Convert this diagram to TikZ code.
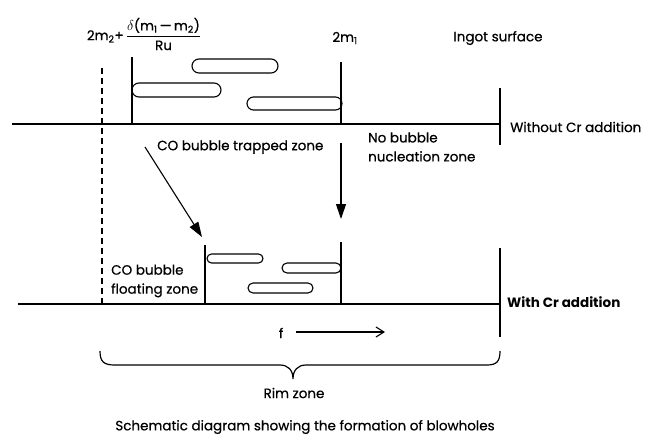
\documentclass[tikz,border=0pt]{standalone}
\usepackage{fontspec}
\setmainfont{Poppins}
\newfontfamily\medfont{Poppins}[FakeBold=0.6]
\usetikzlibrary{
  arrows.meta,
  positioning
}

\begin{document}
\begin{tikzpicture}[x=1pt, y=-1pt,
  wall/.style={line width=1.2pt},
  bubble/.style={line width=1.1pt},
  lbl/.style={font=\fontsize{13.5}{19}\medfont, inner sep=0pt},
  bigarrow/.style={line width=1.1pt, -{Triangle[length=15pt,width=10pt]}}]
  \useasboundingbox (0,0) rectangle (650,434);

  % Ingot without Cr addition
  \draw[wall] (12,124) -- (500,124);
  \draw[wall] (500,88) -- (500,145);
  \draw[wall] (132,57) -- (132,124);
  \draw[wall] (341,62) -- (341,124);

  % Ingot with Cr addition
  \draw[wall] (18,304) -- (500,304);
  \draw[wall] (500,248) -- (500,337);
  \draw[wall] (205,245) -- (205,304);
  \draw[wall] (341,242) -- (341,304);

  % Dashed limit of the floating zone
  \draw[wall, dash pattern=on 6pt off 4pt] (102,68) -- (102,306);

  % Blowholes (elongated bubbles)
  \foreach \xa/\ya/\xb/\yb in {192/59/278/73, 132/83/221/97, 247/97/342/110,
                               207/254/263/263, 282/263/341/273, 248/283/313/293}{
    \pgfmathsetmacro\rad{(\yb-\ya)/2}
    \draw[bubble, rounded corners=\rad pt] (\xa,\ya) rectangle (\xb,\yb);
  }

  % Labels
  \node[lbl] (rate) at (144,34)
    {2m\textsubscript{2}+\,$\displaystyle\frac{\mbox{$\delta$(m\textsubscript{1}\,\textemdash\,m\textsubscript{2})}}{\mbox{Ru}}$};
  \node[lbl] (mone) at (345,38) {2m\textsubscript{1}};
  \node[lbl] (surface) at (498,38) {Ingot surface};
  \node[lbl, anchor=west] (without) at (510,127) {Without Cr addition};
  \node[lbl, anchor=west] (trapped) at (157,147) {CO bubble trapped zone};
  \node[lbl, anchor=west, align=left] (nobubble) at (368,147)
    {No bubble\\nucleation zone};
  \node[lbl, anchor=west, align=left] (floating) at (111,281)
    {CO bubble\\floating zone};
  \node[lbl, anchor=west, font=\fontsize{13.5}{19}\selectfont\bfseries] (with) at (507,302)
    {With Cr addition};
  \node[lbl] (f) at (281,333) {f};
  \node[lbl] (rim) at (294,393) {Rim zone};
  \node[lbl] (caption) at (305,427)
    {Schematic diagram showing the formation of blowholes};

  % Arrows
  \coordinate (trapTail) at (145,147);
  \coordinate (trapTip) at (202,237);
  \coordinate (nucTail) at (341,143);
  \coordinate (nucTip) at (341,219);
  \coordinate (fTail) at (296,332);
  \coordinate (fTip) at (385,332);
  \draw[bigarrow] (trapTail) -- (trapTip);
  \draw[bigarrow] (nucTail) -- (nucTip);
  \draw[line width=1.1pt, -{Straight Barb[length=8pt,width=10pt]}] (fTail) -- (fTip);

  % Brace over the rim zone
  \draw[wall] (100,351) .. controls (100,362) and (104,365) .. (115,365)
    -- (280,365) .. controls (288,365) and (293,370) .. (293,379)
    .. controls (293,370) and (298,365) .. (306,365)
    -- (487,365) .. controls (497,365) and (500,361) .. (500,351);
\end{tikzpicture}
\end{document}
